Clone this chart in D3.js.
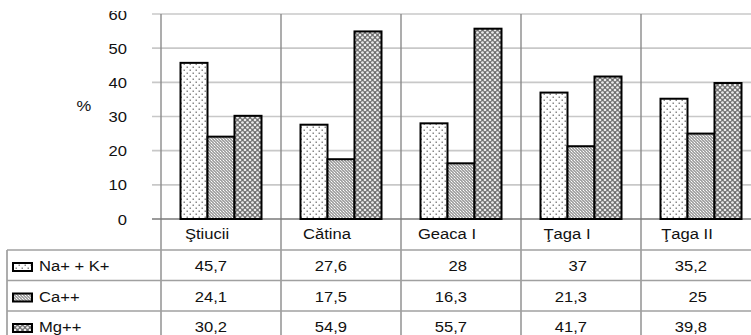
<!DOCTYPE html>
<html><head><meta charset="utf-8">
<script src="https://cdn.jsdelivr.net/npm/d3@7"></script>
<style>body{margin:0;background:#fff}svg{display:block}text{font-family:Arial,"Liberation Sans",sans-serif;font-size:15.5px;fill:#111}</style>
</head><body><svg id="c" width="751" height="335"></svg>
<script>
const categories = ["Ştiucii", "Cătina", "Geaca I", "Ţaga I", "Ţaga II"];
const seriesNames = ["Na+ + K+", "Ca++", "Mg++"];
const naK = [45.7, 27.6, 28, 37, 35.2];
const ca = [24.1, 17.5, 16.3, 21.3, 25];
const mg = [30.2, 54.9, 55.7, 41.7, 39.8];
const valueLabels = [
  ["45,7", "27,6", "28", "37", "35,2"],
  ["24,1", "17,5", "16,3", "21,3", "25"],
  ["30,2", "54,9", "55,7", "41,7", "39,8"]
];
const yTicks = [0, 10, 20, 30, 40, 50, 60];

const seriesValues = [naK, ca, mg];
const svg = d3.select("#c");
const SX = 1.07;
const plotL = 161, plotR = 761, plotT = 14, plotB = 219;
const tableT = 250, rowH = 30.5, tableL = 7;

// patterns
const defs = svg.append("defs");
const p1 = defs.append("pattern").attr("id", "p0").attr("patternUnits", "userSpaceOnUse").attr("width", 6).attr("height", 6);
p1.append("rect").attr("width", 6).attr("height", 6).attr("fill", "#fff");
p1.append("rect").attr("x", 0.5).attr("y", 0.5).attr("width", 1.5).attr("height", 1.5).attr("fill", "#8a8a8a");
p1.append("rect").attr("x", 3.5).attr("y", 3.5).attr("width", 1.5).attr("height", 1.5).attr("fill", "#8a8a8a");
const p2 = defs.append("pattern").attr("id", "p1").attr("patternUnits", "userSpaceOnUse").attr("width", 3).attr("height", 3);
p2.append("rect").attr("width", 3).attr("height", 3).attr("fill", "#a4a4a4");
p2.append("rect").attr("x", 1).attr("y", 1).attr("width", 1).attr("height", 1).attr("fill", "#ffffff");
p2.append("rect").attr("x", 0).attr("y", 0).attr("width", 1).attr("height", 1).attr("fill", "#d8d8d8");
p2.append("rect").attr("x", 2).attr("y", 2).attr("width", 1).attr("height", 1).attr("fill", "#e0e0e0");
const p3 = defs.append("pattern").attr("id", "p2").attr("patternUnits", "userSpaceOnUse").attr("width", 5).attr("height", 5);
p3.append("rect").attr("width", 5).attr("height", 5).attr("fill", "#6e6e6e");
[[0,0],[5,0],[0,5],[5,5],[2.5,2.5]].forEach(([cx,cy]) =>
  p3.append("circle").attr("cx", cx).attr("cy", cy).attr("r", 1.35).attr("fill", "#ececec"));

const x = d3.scaleBand().domain(categories).range([plotL, plotR]).padding(0);
const xi = d3.scaleBand().domain(seriesNames).range([19.5, x.bandwidth() - 19.5]).padding(0);
const y = d3.scaleLinear().domain([0, 60]).range([plotB, plotT]);

function txt(g, s, tx, ty, anchor) {
  return g.append("text").attr("transform", `translate(${tx},${ty}) scale(${SX},1)`)
    .attr("text-anchor", anchor).text(s);
}

// horizontal gridlines (with tick stubs)
svg.append("g").selectAll("line").data(yTicks.filter(t => t > 0)).join("line")
  .attr("x1", 152).attr("x2", plotR).attr("y1", d => y(d)).attr("y2", d => y(d))
  .attr("stroke", "#c8c8c8").attr("stroke-width", 1.6);

// vertical separators
const vlines = categories.map(c => x(c)).concat([plotR]);
svg.append("g").selectAll("line").data(vlines).join("line")
  .attr("x1", d => d).attr("x2", d => d).attr("y1", plotT).attr("y2", 335)
  .attr("stroke", "#8a8a8a").attr("stroke-width", 1.4);

// table lines
svg.append("line").attr("x1", tableL).attr("x2", tableL).attr("y1", tableT).attr("y2", 335)
  .attr("stroke", "#8a8a8a").attr("stroke-width", 1.4);
svg.append("g").selectAll("line").data([0, 1, 2]).join("line")
  .attr("x1", tableL).attr("x2", plotR).attr("y1", d => tableT + d * rowH).attr("y2", d => tableT + d * rowH)
  .attr("stroke", "#a0a0a0").attr("stroke-width", 1.4);

// zero line
svg.append("line").attr("x1", 152).attr("x2", plotR).attr("y1", y(0)).attr("y2", y(0))
  .attr("stroke", "#7a7a7a").attr("stroke-width", 1.6);

// bars
seriesNames.forEach((s, si) => {
  svg.append("g").selectAll("rect").data(categories).join("rect")
    .attr("x", c => x(c) + xi(s))
    .attr("y", (c, i) => y(seriesValues[si][i]))
    .attr("width", xi.bandwidth())
    .attr("height", (c, i) => y(0) - y(seriesValues[si][i]))
    .attr("fill", `url(#p${si})`).attr("stroke", "#000").attr("stroke-width", 2);
});

// y axis labels
const yl = svg.append("g");
yTicks.forEach(t => txt(yl, String(t), 127, y(t) + 5.5, "end"));
txt(yl, "%", 84, 111, "middle");
// clip top
svg.append("rect").attr("x", 0).attr("y", 0).attr("width", 150).attr("height", 11).attr("fill", "#fff");

// category labels
const cl = svg.append("g");
categories.forEach(c => txt(cl, c, x(c) + x.bandwidth() / 2 - 14, 239, "middle"));

// table rows
const tg = svg.append("g");
seriesNames.forEach((s, si) => {
  const top = tableT + si * rowH;
  tg.append("rect").attr("x", 13).attr("y", top + 13).attr("width", 19).attr("height", 8)
    .attr("fill", `url(#p${si})`).attr("stroke", "#000").attr("stroke-width", 2);
  txt(tg, s, 39, top + 21, "start");
  categories.forEach((c, ci) => txt(tg, valueLabels[si][ci], x(c) + 66, top + 21, "end"));
});
</script></body></html>
